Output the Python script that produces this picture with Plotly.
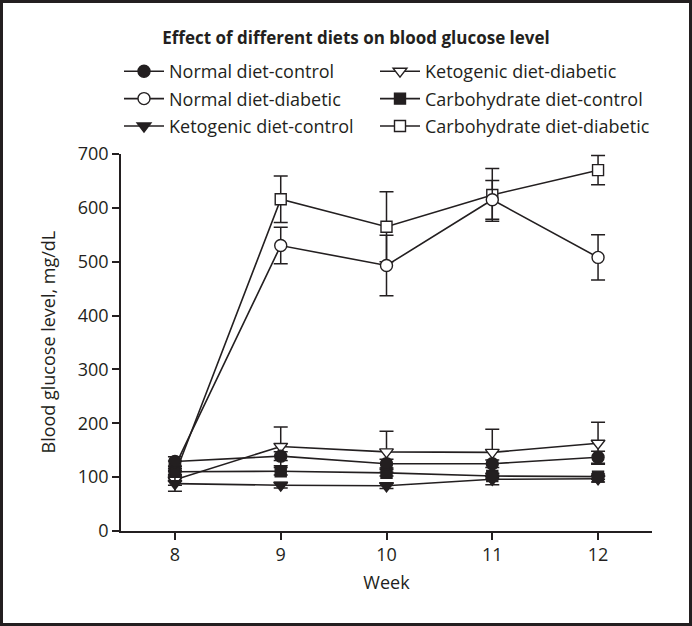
import plotly.graph_objects as go

weeks = [8, 9, 10, 11, 12]

normal_control = [129, 139, 125, 125, 137]
normal_control_sd = [9, 8, 8, 7, 11]
normal_diabetic = [120, 530, 493, 615, 508]
normal_diabetic_sd = [10, 34, 56, 36, 42]
keto_control = [88, 85, 84, 96, 97]
keto_control_sd = [14, 5, 5, 10, 6]
keto_diabetic = [95, 157, 147, 146, 163]
keto_diabetic_sd = [10, 36, 38, 43, 39]
carb_control = [110, 111, 108, 102, 101]
carb_control_sd = [6, 7, 6, 5, 5]
carb_diabetic = [105, 616, 565, 624, 670]
carb_diabetic_sd = [8, 43, 65, 49, 27]

x_ticks = [8, 9, 10, 11, 12]
y_ticks = [0, 100, 200, 300, 400, 500, 600, 700]

INK = "#231f20"
FONT = "Open Sans"
W, H = 692, 626
ML, MR, MT, MB = 121, 40, 154, 95
PW, PH = W - ML - MR, H - MT - MB

# name, y, sd, symbol, filled, legend, rank, size
series = [
    ("Carbohydrate diet-diabetic", carb_diabetic, carb_diabetic_sd, "square", False, "legend2", 3, 11),
    ("Normal diet-diabetic", normal_diabetic, normal_diabetic_sd, "circle", False, "legend", 2, 12),
    ("Ketogenic diet-diabetic", keto_diabetic, keto_diabetic_sd, "triangle-down", False, "legend2", 1, 12),
    ("Ketogenic diet-control", keto_control, keto_control_sd, "triangle-down", True, "legend", 3, 12),
    ("Carbohydrate diet-control", carb_control, carb_control_sd, "square", True, "legend2", 2, 11),
    ("Normal diet-control", normal_control, normal_control_sd, "circle", True, "legend", 1, 12),
]

fig = go.Figure()
for i, (name, y, sd, sym, filled, leg, rank, size) in enumerate(series):
    fig.add_trace(go.Scatter(
        x=weeks, y=y, name=name, mode="lines+markers",
        line=dict(color=INK, width=1.6),
        marker=dict(symbol=sym, size=size, color=INK if filled else "white",
                    line=dict(color=INK, width=1.4)),
        error_y=dict(type="data", array=sd, visible=True, color=INK,
                     thickness=1.5, width=7),
        legend=leg, legendrank=rank, legendgroup=f"g{i}",
    ))

legend_common = dict(
    xref="container", yref="container", xanchor="left", yanchor="top",
    orientation="v", bgcolor="rgba(0,0,0,0)", tracegroupgap=1,
    font=dict(family=FONT, size=18, color=INK), itemwidth=40,
)

fig.update_layout(
    width=W, height=H,
    margin=dict(l=ML, r=MR, t=MT, b=MB, autoexpand=False),
    paper_bgcolor="white", plot_bgcolor="white",
    font=dict(family=FONT, size=18, color=INK),
    title=dict(text="<b>Effect of different diets on blood glucose level</b>",
               x=356 / W, xref="container", xanchor="center",
               y=1 - 38 / H, yref="container", yanchor="middle",
               font=dict(family=FONT, size=17, color=INK)),
    legend=dict(x=119 / W, y=1 - 53 / H, **legend_common),
    legend2=dict(x=375 / W, y=1 - 53 / H, **legend_common),
    xaxis=dict(range=[7.49, 12.51], tickvals=x_ticks, ticktext=[str(v) for v in x_ticks],
               showline=True, linecolor=INK, linewidth=1.5, ticks="outside",
               ticklen=7, tickwidth=1.5, tickcolor=INK, showgrid=False, zeroline=False,
               title=dict(text="Week", standoff=11, font=dict(size=18)),
               tickfont=dict(size=18)),
    yaxis=dict(range=[0, 700], tickvals=y_ticks, ticktext=[str(v) for v in y_ticks],
               showline=True, linecolor=INK, linewidth=1.5, ticks="outside",
               ticklen=7, tickwidth=1.5, tickcolor=INK, showgrid=False, zeroline=False,
               tickfont=dict(size=18)),
    annotations=[dict(text="Blood glucose level, mg/dL", xref="paper", yref="paper",
                      x=(47 - ML) / PW, y=0.5, xanchor="center", yanchor="middle",
                      textangle=-90, showarrow=False,
                      font=dict(family=FONT, size=18, color=INK))],
)

# outer frame of the picture
fig.add_shape(type="rect", xref="paper", yref="paper",
              x0=(1.5 - ML) / PW, x1=(W - 1.5 - ML) / PW,
              y0=(1.5 - MB) / PH, y1=(H - 1.5 - MB) / PH,
              line=dict(color=INK, width=3), fillcolor="rgba(0,0,0,0)", layer="above")

fig.write_html("out.html", config={"displayModeBar": False},
               post_script="document.body.style.margin='0';")
